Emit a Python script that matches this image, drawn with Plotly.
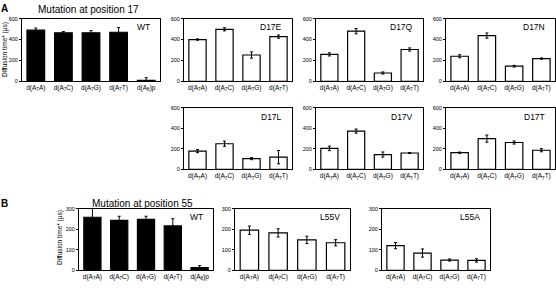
import plotly.graph_objects as go

W, H = 556, 288

# ---------------- data ----------------
cats4 = ["d(A<sub>7</sub>A)", "d(A<sub>7</sub>C)", "d(A<sub>7</sub>G)", "d(A<sub>7</sub>T)"]
cats5 = cats4 + ["d(A<sub>8</sub>)p"]

wt17_vals = [490, 465, 465, 470, 10]
wt17_err = [20, 12, 20, 45, 25]
d17e_vals = [400, 498, 252, 428]
d17e_err = [6, 15, 30, 15]
d17q_vals = [258, 480, 80, 305]
d17q_err = [15, 25, 10, 15]
d17n_vals = [240, 438, 145, 218]
d17n_err = [15, 25, 8, 6]
d17l_vals = [178, 250, 105, 120]
d17l_err = [15, 25, 10, 65]
d17v_vals = [205, 373, 145, 160]
d17v_err = [22, 20, 25, 5]
d17t_vals = [163, 300, 262, 187]
d17t_err = [6, 35, 15, 15]

wt55_vals = [258, 243, 248, 216, 13]
wt55_err = [62, 20, 15, 35, 10]
l55v_vals = [195, 182, 148, 134]
l55v_err = [20, 20, 18, 15]
l55a_vals = [120, 84, 50, 48]
l55a_err = [15, 20, 5, 8]

yticks_a = [0, 200, 400, 600]
yticks_b = [0, 100, 200, 300]

FONT = "Arial, Liberation Sans, sans-serif"

# name, cats, vals, errs, fill, x0, x1, ytop, ybot, ymax, ticks
panels = [
    ("WT", cats5, wt17_vals, wt17_err, "black", 22, 160, 16, 80, 600, yticks_a),
    ("D17E", cats4, d17e_vals, d17e_err, "white", 184, 292, 16, 80, 600, yticks_a),
    ("D17Q", cats4, d17q_vals, d17q_err, "white", 316, 423, 16, 80, 600, yticks_a),
    ("D17N", cats4, d17n_vals, d17n_err, "white", 446, 555, 16, 80, 600, yticks_a),
    ("D17L", cats4, d17l_vals, d17l_err, "white", 184, 292, 107, 170, 600, yticks_a),
    ("D17V", cats4, d17v_vals, d17v_err, "white", 316, 423, 107, 170, 600, yticks_a),
    ("D17T", cats4, d17t_vals, d17t_err, "white", 446, 555, 107, 170, 600, yticks_a),
    ("WT", cats5, wt55_vals, wt55_err, "black", 79, 213, 210, 273, 300, yticks_b),
    ("L55V", cats4, l55v_vals, l55v_err, "white", 235, 350, 210, 273, 300, yticks_b),
    ("L55A", cats4, l55a_vals, l55a_err, "white", 382, 490, 210, 273, 300, yticks_b),
]

fig = go.Figure()
annotations = []
layout = {}
for i, (name, cats, vals, errs, fill, x0, x1, yt, yb, ymax, ticks) in enumerate(panels, start=1):
    xa = "x" if i == 1 else f"x{i}"
    ya = "y" if i == 1 else f"y{i}"
    fig.add_trace(go.Bar(
        x=cats, y=vals, xaxis=xa, yaxis=ya,
        marker=dict(color=fill, line=dict(color="black", width=1.2)),
        width=0.64,
        error_y=dict(type="data", array=errs, visible=True, color="black",
                     thickness=1, width=1.5),
        cliponaxis=False, showlegend=False, hoverinfo="skip",
    ))
    xkey = "xaxis" if i == 1 else f"xaxis{i}"
    ykey = "yaxis" if i == 1 else f"yaxis{i}"
    layout[xkey] = dict(
        domain=[x0 / W, x1 / W], anchor=ya, type="category",
        range=[-0.5, len(cats) - 0.5],
        showline=True, mirror=True, linecolor="black", linewidth=1,
        ticks="", showgrid=False, zeroline=False,
        tickfont=dict(size=6.5, family=FONT, color="black"),
    )
    layout[ykey] = dict(
        domain=[1 - yb / H, 1 - yt / H], anchor=xa,
        range=[0, ymax], tickvals=ticks,
        showline=True, mirror=True, linecolor="black", linewidth=1,
        ticks="outside", ticklen=2, tickwidth=1, tickcolor="black",
        showgrid=False, zeroline=False,
        tickfont=dict(size=5.5, family=FONT, color="black"),
    )
    annotations.append(dict(
        text=name, x=(x1 - 8) / W, y=1 - (yt + 9) / H, xref="paper", yref="paper",
        xanchor="right", yanchor="middle", showarrow=False,
        font=dict(size=8.5, family=FONT, color="black"),
    ))

# titles and panel letters
annotations += [
    dict(text="<b>A</b>", x=4 / W, y=1 - 6 / H, xref="paper", yref="paper",
         xanchor="center", yanchor="middle", showarrow=False,
         font=dict(size=10, family=FONT, color="black")),
    dict(text="<b>B</b>", x=4 / W, y=1 - 205 / H, xref="paper", yref="paper",
         xanchor="center", yanchor="middle", showarrow=False,
         font=dict(size=10, family=FONT, color="black")),
    dict(text="Mutation at position 17", x=88 / W, y=1 - 7 / H, xref="paper", yref="paper",
         xanchor="center", yanchor="middle", showarrow=False,
         font=dict(size=10, family=FONT, color="black")),
    dict(text="Mutation at position 55", x=142 / W, y=1 - 205 / H, xref="paper", yref="paper",
         xanchor="center", yanchor="middle", showarrow=False,
         font=dict(size=10, family=FONT, color="black")),
    dict(text="Diffusion time* (μs)", x=5 / W, y=1 - 48 / H, xref="paper", yref="paper",
         xanchor="center", yanchor="middle", showarrow=False, textangle=-90,
         font=dict(size=6.5, family=FONT, color="black")),
    dict(text="Diffusion time* (μs)", x=60 / W, y=1 - 240 / H, xref="paper", yref="paper",
         xanchor="center", yanchor="middle", showarrow=False, textangle=-90,
         font=dict(size=6.5, family=FONT, color="black")),
]

fig.update_layout(
    width=W, height=H, margin=dict(l=0, r=0, t=0, b=0),
    paper_bgcolor="white", plot_bgcolor="white",
    annotations=annotations, bargap=0.38,
    font=dict(family=FONT, color="black"),
    **layout,
)

fig.write_html(
    "out.html",
    config={"displayModeBar": False, "staticPlot": True},
    post_script="document.body.style.margin='0';document.body.style.overflow='hidden';",
)
